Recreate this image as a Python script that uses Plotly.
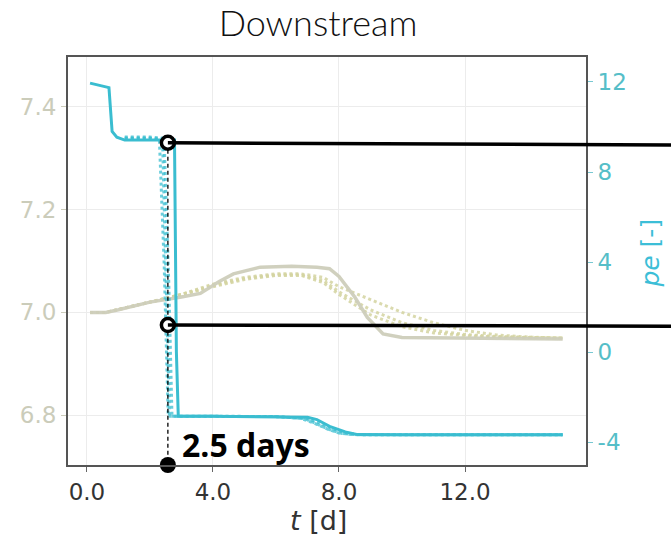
import plotly.graph_objects as go

# ---------------- data ----------------
# pe (right axis) - solid reference run
t_pe = [0.1, 0.7, 0.8, 0.95, 1.2, 2.0, 2.78, 2.84, 2.9, 4.0, 6.0, 7.0, 7.3, 7.7, 8.2, 8.6, 10.0, 12.0, 14.0, 15.1]
pe_solid = [11.95, 11.75, 9.8, 9.55, 9.42, 9.42, 9.42, 0.0, -2.85, -2.85, -2.87, -2.9, -3.0, -3.3, -3.55, -3.67, -3.68, -3.68, -3.68, -3.68]

# pe dotted variants
t_pe_d1 = [1.2, 2.0, 2.4, 2.52, 2.62, 4.0, 6.0, 6.8, 7.2, 7.6, 8.0, 8.4, 10.0, 12.0, 15.1]
pe_d1 = [9.55, 9.55, 9.5, 2.0, -2.85, -2.85, -2.87, -2.95, -3.15, -3.4, -3.6, -3.67, -3.68, -3.68, -3.68]
t_pe_d2 = [1.2, 2.0, 2.45, 2.6, 2.7, 4.0, 6.0, 7.0, 7.4, 7.8, 8.2, 8.6, 10.0, 12.0, 15.1]
pe_d2 = [9.5, 9.5, 9.45, 3.0, -2.85, -2.85, -2.87, -2.95, -3.15, -3.4, -3.6, -3.67, -3.68, -3.68, -3.68]
t_pe_d3 = [1.2, 2.0, 2.3, 2.45, 2.58, 4.0, 6.0, 6.9, 7.3, 7.7, 8.1, 8.5, 10.0, 12.0, 15.1]
pe_d3 = [9.5, 9.5, 9.45, 4.0, -2.85, -2.85, -2.87, -2.95, -3.2, -3.45, -3.62, -3.67, -3.68, -3.68, -3.68]

# pH (left axis) - solid reference run
t_ph = [0.1, 0.6, 1.0, 2.0, 3.0, 3.6, 4.2, 4.65, 5.5, 6.5, 7.3, 7.7, 8.0, 8.5, 8.9, 9.4, 10.0, 12.0, 15.1]
ph_solid = [7.0, 7.0, 7.005, 7.02, 7.03, 7.037, 7.06, 7.075, 7.088, 7.09, 7.088, 7.085, 7.07, 7.03, 6.99, 6.958, 6.951, 6.95, 6.948]

# pH dotted variants
t_ph_d = [0.1, 0.6, 2.0, 3.0, 4.0, 5.0, 6.0, 6.8, 7.5, 8.0, 9.0, 10.0, 11.0, 12.0, 13.0, 14.0, 15.1]
ph_d1 = [7.0, 7.0, 7.02, 7.035, 7.055, 7.068, 7.075, 7.075, 7.068, 7.05, 7.025, 7.0, 6.98, 6.965, 6.956, 6.952, 6.95]
ph_d2 = [7.0, 7.0, 7.02, 7.035, 7.052, 7.066, 7.073, 7.073, 7.062, 7.04, 7.005, 6.98, 6.965, 6.957, 6.953, 6.951, 6.95]
ph_d3 = [7.0, 7.0, 7.02, 7.034, 7.05, 7.064, 7.072, 7.072, 7.058, 7.035, 6.995, 6.972, 6.96, 6.955, 6.952, 6.951, 6.95]

x_ticks = [0, 4, 8, 12]
x_tick_labels = ["0.0", "4.0", "8.0", "12.0"]
ph_ticks = [6.8, 7.0, 7.2, 7.4]
ph_tick_labels = ["6.8", "7.0", "7.2", "7.4"]
pe_ticks = [-4, 0, 4, 8, 12]
pe_tick_labels = ["-4", "0", "4", "8", "12"]

# annotation values
t_mark = 2.57
pe_mark_top = 9.3
pe_mark_low = 1.2
label_days = "2.5 days"

# ---------------- style ----------------
x_range = [-0.6, 15.84]
ph_range = [6.703, 7.497]
pe_range = [-5.02, 13.11]

CYAN = "rgb(58,189,208)"
CYAN_D = "rgba(58,189,208,0.75)"
BEIGE = "rgba(206,206,186,0.95)"
BEIGE_D = "rgba(212,212,160,0.85)"

fig = go.Figure()

for tt, yy in [(t_ph_d, ph_d1), (t_ph_d, ph_d2), (t_ph_d, ph_d3)]:
    fig.add_trace(go.Scatter(x=tt, y=yy, mode="lines", yaxis="y",
                             line=dict(color=BEIGE_D, width=3, dash="dot"), showlegend=False))
fig.add_trace(go.Scatter(x=t_ph, y=ph_solid, mode="lines", yaxis="y",
                         line=dict(color=BEIGE, width=3.5), showlegend=False))

for tt, yy in [(t_pe_d1, pe_d1), (t_pe_d2, pe_d2), (t_pe_d3, pe_d3)]:
    fig.add_trace(go.Scatter(x=tt, y=yy, mode="lines", yaxis="y2",
                             line=dict(color=CYAN_D, width=3, dash="dot"), showlegend=False))
fig.add_trace(go.Scatter(x=t_pe, y=pe_solid, mode="lines", yaxis="y2",
                         line=dict(color=CYAN, width=3), showlegend=False))

# dashed vertical guide
fig.add_trace(go.Scatter(x=[t_mark, t_mark], y=[pe_mark_top, pe_range[0]], mode="lines", yaxis="y2",
                         line=dict(color="black", width=1.3, dash="4px,3px"), showlegend=False))


def to_paper_x(v):
    return (v - x_range[0]) / (x_range[1] - x_range[0])


def to_paper_y2(v):
    return (v - pe_range[0]) / (pe_range[1] - pe_range[0])


# horizontal black connector lines (extend beyond plot to the right)
for pv, drop in [(pe_mark_top, 0.1), (pe_mark_low, 0.05)]:
    fig.add_shape(type="line", xref="paper", yref="paper",
                  x0=to_paper_x(t_mark), y0=to_paper_y2(pv),
                  x1=1.165, y1=to_paper_y2(pv - drop),
                  line=dict(color="black", width=3.5), layer="above")

# open circle markers
fig.add_trace(go.Scatter(x=[t_mark, t_mark], y=[pe_mark_top, pe_mark_low], mode="markers", yaxis="y2",
                         marker=dict(symbol="circle", size=13, color="white",
                                     line=dict(color="black", width=3.5)),
                         cliponaxis=False, showlegend=False))
# filled bottom dot
fig.add_trace(go.Scatter(x=[t_mark], y=[pe_range[0]], mode="markers", yaxis="y2",
                         marker=dict(symbol="circle", size=16, color="black"),
                         cliponaxis=False, showlegend=False))

fig.add_annotation(x=t_mark, y=-4.1, xref="x", yref="y2", text="<b>" + label_days + "</b>",
                   showarrow=False, xanchor="left", yanchor="middle", xshift=12,
                   font=dict(family="Open Sans, Lato, sans-serif", size=32, color="black", weight=800))

# axis titles as positioned annotations
fig.add_annotation(x=0.483, y=-0.135, xref="paper", yref="paper", text="<i>t</i> [d]",
                   showarrow=False, xanchor="center", yanchor="middle",
                   font=dict(family="DejaVu Sans", size=27, color="#333"))
fig.add_annotation(x=1.125, y=0.52, xref="paper", yref="paper", text="<i>pe</i> [-]",
                   showarrow=False, xanchor="center", yanchor="middle", textangle=-90,
                   font=dict(family="DejaVu Sans", size=25, color="rgb(60,190,215)"))

fig.update_layout(
    width=671, height=543,
    margin=dict(l=68, r=85, t=57, b=78),
    paper_bgcolor="white", plot_bgcolor="white",
    title=dict(text="Downstream", x=0.474, xanchor="center", y=0.956, yanchor="middle",
               font=dict(family="Lato, Open Sans, sans-serif", size=36, color="#111", weight=300)),
    xaxis=dict(range=x_range, tickvals=x_ticks, ticktext=x_tick_labels,
               showgrid=True, gridcolor="#ececec", gridwidth=1, zeroline=False,
               showline=True, linecolor="#555", linewidth=2, mirror=True,
               ticks="outside", ticklen=5, tickcolor="#666",
               tickfont=dict(family="DejaVu Sans", size=23, color="#333")),
    yaxis=dict(range=ph_range, tickvals=ph_ticks, ticktext=ph_tick_labels,
               showgrid=True, gridcolor="#ececec", gridwidth=1, zeroline=False,
               showline=True, linecolor="#555", linewidth=2, mirror=True,
               ticks="outside", ticklen=5, tickcolor="#ccccbb",
               tickfont=dict(family="DejaVu Sans", size=23, color="rgb(203,204,186)")),
    yaxis2=dict(range=pe_range, tickvals=pe_ticks, ticktext=pe_tick_labels,
                overlaying="y", side="right", showgrid=False, zeroline=False,
                showline=True, linecolor="#555", linewidth=2,
                ticks="outside", ticklen=5, tickcolor="rgb(120,200,210)",
                tickfont=dict(family="DejaVu Sans", size=23, color="rgb(85,190,200)")),
)

fig.write_html("out.html")
